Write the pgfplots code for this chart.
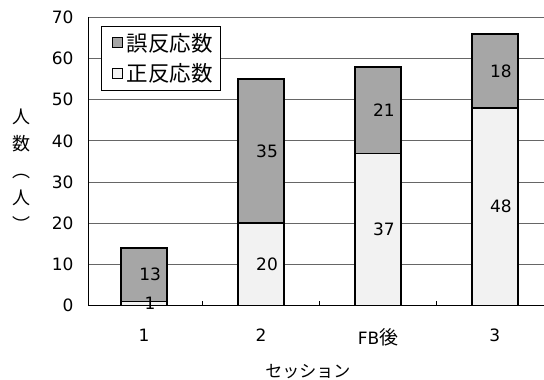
\documentclass[border=0pt]{standalone}
\usepackage{pgfplots}
\pgfplotsset{compat=1.18}
\usepackage{pgfplotstable}
\usepackage{fontspec}
\setmainfont{DejaVu Sans}
\newfontfamily\jp{Noto Sans CJK JP}

\definecolor{ngfill}{HTML}{A6A6A6}
\definecolor{okfill}{HTML}{F2F2F2}
\definecolor{gridgray}{HTML}{666666}

% x: session position, ok: correct responses, ng: error responses
\pgfplotstableread{
x ok ng
0 1  13
1 20 35
2 37 21
3 48 18
}\sessions

\newcommand\basefont{\fontsize{17}{20}\selectfont}

\begin{document}
\begin{tikzpicture}
\begin{axis}[
  name=main,
  scale only axis,
  width=456pt, height=288pt,
  xmin=-0.48, xmax=3.42,
  ymin=0, ymax=70,
  ybar,
  axis x line=bottom, axis y line=left,
  axis line style={-},
  x axis line style={line width=1.2pt},
  y axis line style={line width=0.8pt},
  xtick={0,1,2,3},
  xticklabels={1,2,FB{\jp\fontsize{19}{20}\selectfont 後},3},
  major x tick style={draw=none},
  minor xtick={0.5,1.5,2.5},
  minor x tick style={black, line width=0.8pt},
  minor tick length=5pt,
  tick align=inside,
  ytick={0,10,...,70},
  major y tick style={draw=none},
  ymajorgrids,
  grid style={gridgray, line width=0.9pt},
  /pgf/number format/assume math mode=true,
  tick label style={font=\basefont},
  xticklabel style={yshift=-20pt},
  yticklabel style={xshift=-11pt},
  xlabel={\jp セッション},
  xlabel style={at={(axis description cs:0.482,-0.229)}, anchor=center, font=\basefont},
  ylabel={\jp 人\\\jp 数\\\jp ︵\\\jp 人\\\jp ︶},
  ylabel style={rotate=-90, align=center, font=\fontsize{18}{27}\selectfont,
    at={(axis description cs:-0.145,0.47)}, anchor=center},
  legend style={at={(axis description cs:0.0285,0.972)}, anchor=north west,
    draw=black, line width=0.8pt, font=\fontsize{21.5}{24}\selectfont\jp,
    inner xsep=4pt, inner ysep=5pt, row sep=7pt, cells={anchor=west},
    nodes={inner xsep=4pt}},
  legend image code/.code={\path (0pt,0pt);
    \draw[#1, draw=black, line width=1pt] (6pt,-5pt) rectangle (16pt,5pt);},
]
% error responses drawn as the full stack height, correct responses over them
\addplot[bar shift=0pt, bar width=46pt, fill=ngfill, draw=black, line width=1.5pt]
  table[x=x, y expr=\thisrow{ok}+\thisrow{ng}] {\sessions};
\addlegendentry{誤反応数}
\addplot[bar shift=0pt, bar width=46pt, fill=okfill, draw=black, line width=1.5pt]
  table[x=x, y=ok] {\sessions};
\addlegendentry{正反応数}
% segment value labels
\addplot[forget plot, sharp plot, draw=none, mark=none, nodes near coords,
  nodes near coords align=center, point meta=explicit symbolic,
  every node near coord/.append style={font=\basefont, text=black}]
  table[x=x, y expr=\thisrow{ok}/2, meta=ok] {\sessions};
\addplot[forget plot, sharp plot, draw=none, mark=none, nodes near coords,
  nodes near coords align=center, point meta=explicit symbolic,
  every node near coord/.append style={font=\basefont, text=black}]
  table[x=x, y expr=\thisrow{ok}+\thisrow{ng}/2, meta=ng] {\sessions};
\end{axis}
\pgfresetboundingbox
\useasboundingbox ([shift={(-88pt,-74pt)}]main.south west) rectangle ([shift={(0pt,17.5pt)}]main.north east);
\end{tikzpicture}
\end{document}
